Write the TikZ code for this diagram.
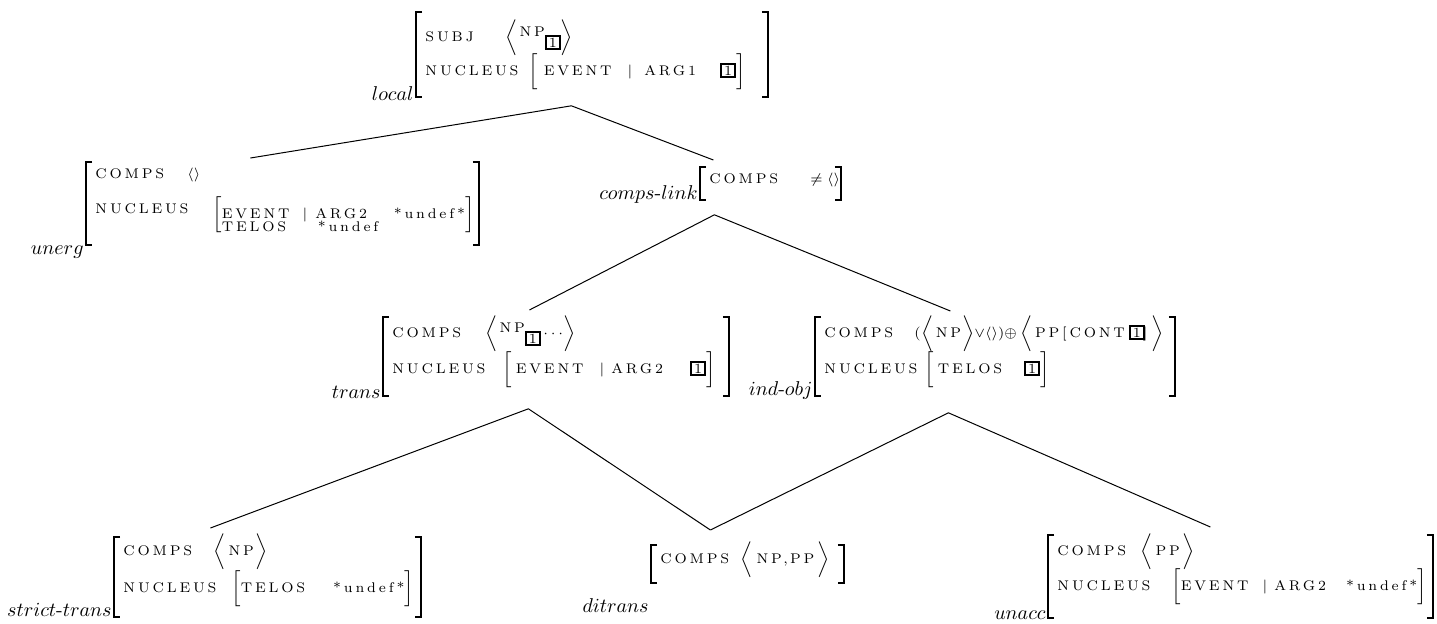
\documentclass[tikz,border=0pt]{standalone}
\usepackage{fontspec}
\usepackage{tikz}
\usetikzlibrary{calc}
\newfontfamily\ftfont{lmroman7-regular.otf}[LetterSpace=20]
\newcommand{\tg}[1]{{\setlength{\fboxsep}{0.5pt}\setlength{\fboxrule}{1pt}\fbox{\makebox[5pt]{\rmfamily\fontsize{7}{8}\selectfont#1}}}}
\newcommand{\feat}[3]{\hbox{\makebox[#1][l]{#2}#3}}
\newcommand{\avmrows}[3]{\hbox to #1{\vtop{\baselineskip=#2\lineskiplimit=-\maxdimen#3}\hss}}
\newcommand{\avl}{$\Bigl\langle$}
\newcommand{\avr}{$\Bigr\rangle$}
\newcommand{\avlb}{$\Bigl[$}
\newcommand{\avrb}{$\Bigr]$}
\newcommand{\innertwo}[2]{\raisebox{-2.6pt}{$\left[\rule[-7.8pt]{0pt}{19pt}\raisebox{-2.5pt}{$\vcenter{\baselineskip=6.5pt\lineskiplimit=-\maxdimen\hbox{#1}\hbox{#2}}$}\right]$}}

\begin{document}
\begin{tikzpicture}[x=0.5pt, y=-0.5pt,
    avm/.style={anchor=north west, inner xsep=4.5pt, inner ysep=0pt,
      font=\ftfont\fontsize{7}{8.5}\selectfont},
    tlabel/.style={anchor=base east, inner sep=1pt, font=\fontsize{10}{12}\selectfont},
    brk/.style={line width=1.1pt},
    link/.style={line width=0.5pt}]
  \useasboundingbox (0,0) rectangle (1437,623);

  % top
  \node[avm, text height=14.5pt, text depth=27.5pt] (local) at (416,12)
    {\avmrows{166.5pt}{17pt}{%
      \feat{40pt}{SUBJ}{\avl\hspace{1pt}\raisebox{2.5pt}{NP}\raisebox{-3pt}{\tg{1}}\avr}%
      \feat{51.5pt}{NUCLEUS}{\avlb\hspace{3pt}EVENT\hspace{8pt}|\hspace{6pt}ARG1\hspace{12pt}\tg{1}\avrb}}};
  \node[tlabel] (local-t) at ([yshift=-2pt]local.south west) {$local$};

  % second level
  \node[avm, text height=8pt, text depth=33pt] (unerg) at (86,162)
    {\avmrows{187pt}{17.5pt}{%
      \feat{46pt}{COMPS}{$\langle\rangle$}%
      \feat{58.5pt}{NUCLEUS}{\innertwo{\makebox[86pt][l]{EVENT\hspace{6.5pt}|\hspace{4pt}ARG2}*undef*}{\makebox[48pt][l]{TELOS}*undef}}}};
  \node[tlabel] (unerg-t) at ([yshift=-5pt]unerg.south west) {$unerg$};

  \node[avm, text height=8pt, text depth=8pt] (compslink) at (700,167)
    {\avmrows{61pt}{17.5pt}{%
      \feat{50.5pt}{COMPS}{$\neq\langle\rangle$}}};
  \node[tlabel] (compslink-t) at (compslink.south west) {$comps\mbox{-}link$};

  % third level
  \node[avm, text height=10pt, text depth=29pt] (trans) at (383,317)
    {\avmrows{163.5pt}{18pt}{%
      \feat{46.5pt}{COMPS}{\avl\hspace{1pt}\raisebox{2.5pt}{NP}\raisebox{-3pt}{\tg{1}}\,$\cdots$\avr}%
      \feat{55pt}{NUCLEUS}{\avlb\hspace{2pt}EVENT\hspace{8pt}|\hspace{3.5pt}ARG2\hspace{13.5pt}\tg{1}\avrb}}};
  \node[tlabel] (trans-t) at ([yshift=-1.5pt]trans.south west) {$trans$};

  \node[avm, text height=10pt, text depth=29pt] (indobj) at (815,317)
    {\avmrows{170.5pt}{18pt}{%
      \feat{45pt}{COMPS}{(\hspace{0.5pt}\avl\hspace{1pt}NP\hspace{0.5pt}\avr$\vee\langle\rangle)\oplus$\hspace{2pt}\avl\hspace{1pt}PP[CONT\hspace{2pt}\tg{1}\hspace{-1pt}]\hspace{2pt}\avr}%
      \feat{50pt}{NUCLEUS}{\avlb\hspace{2pt}TELOS\hspace{11pt}\tg{1}\avrb}}};
  \node[tlabel] (indobj-t) at (indobj.south west) {$ind\mbox{-}obj$};

  % bottom
  \node[avm, text height=9pt, text depth=30.5pt] (stricttrans) at (114,537)
    {\avmrows{144pt}{18.5pt}{%
      \feat{45pt}{COMPS}{\avl\hspace{1.5pt}NP\hspace{1pt}\avr}%
      \feat{54pt}{NUCLEUS}{\avlb TELOS\hspace{14pt}*undef*\avrb}}};
  \node[tlabel] (stricttrans-t) at (stricttrans.south west) {$strict\mbox{-}trans$};

  \node[avm, text height=9pt, text depth=9.5pt] (ditrans) at (651,545)
    {\avmrows{87pt}{17.5pt}{%
      \feat{40pt}{COMPS}{\avl\hspace{2pt}NP,\hspace{1pt}PP\hspace{1.5pt}\avr}}};
  \node[tlabel] (ditrans-t) at ([yshift=-15pt]ditrans.south west) {$ditrans$};

  \node[avm, text height=10pt, text depth=31pt] (unacc) at (1048,535)
    {\avmrows{183pt}{17.5pt}{%
      \feat{41.5pt}{COMPS}{\avl\hspace{1.5pt}PP\hspace{1.5pt}\avr}%
      \feat{57pt}{NUCLEUS}{\avlb EVENT\hspace{7pt}|\hspace{3.5pt}ARG2\hspace{10pt}*undef*\avrb}}};
  \node[tlabel] (unacc-t) at ([yshift=-1pt]unacc.south west) {$unacc$};

  % outer brackets
  \foreach \n in {local,unerg,compslink,trans,indobj,stricttrans,ditrans,unacc} {
    \draw[brk] ([xshift=3pt]\n.north west) -- (\n.north west) -- (\n.south west) -- ([xshift=3pt]\n.south west);
    \draw[brk] ([xshift=-3pt]\n.north east) -- (\n.north east) -- (\n.south east) -- ([xshift=-3pt]\n.south east);
  }

  % hierarchy
  \draw[link] ($(unerg.north)+(-32,-4)$) -- ($(local.south)+(-20.5,9)$) -- ($(compslink.north)+(-57,-7)$);
  \draw[link] ($(trans.north)+(-26.5,-7)$) -- ($(compslink.south)+(-56,15)$) -- ($(indobj.north)+(-44.5,-6)$);
  \draw[link] ($(stricttrans.north)+(-57,-9)$) -- ($(trans.south)+(-27.5,13)$) -- ($(ditrans.north)+(-37,-15)$);
  \draw[link] ($(ditrans.north)+(-37,-15)$) -- ($(indobj.south)+(-46.5,17)$) -- ($(unacc.north)+(-30,-8)$);
\end{tikzpicture}
\end{document}
